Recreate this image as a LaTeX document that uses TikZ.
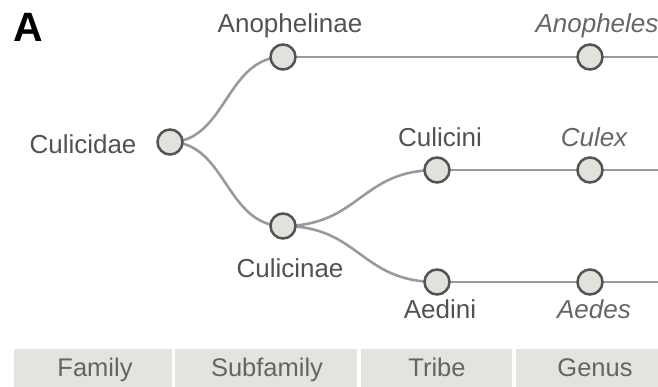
\documentclass[tikz,border=0pt]{standalone}
\usepackage{fontspec}
\setmainfont{Liberation Sans}
\definecolor{edgecol}{HTML}{9A9A9A}
\definecolor{ringcol}{HTML}{505553}
\definecolor{dotfill}{HTML}{E2E2DC}
\definecolor{txtcol}{HTML}{4F5452}
\definecolor{genuscol}{HTML}{666666}
\definecolor{barfill}{HTML}{E3E3DF}
\definecolor{bartxt}{HTML}{646464}
\tikzset{
  taxon/.style={circle, minimum size=25pt, inner sep=0pt, fill=dotfill, draw=ringcol, line width=2.5pt},
  link/.style={draw=edgecol, line width=2.6pt},
  lbl/.style={anchor=base, inner sep=0pt, text=txtcol, font=\fontsize{26}{30}\selectfont},
  glbl/.style={anchor=base, inner sep=0pt, text=genuscol, font=\fontsize{26}{30}\selectfont\itshape},
  rankcell/.style={fill=barfill, draw=none},
  ranklbl/.style={anchor=base, inner sep=0pt, text=bartxt, font=\fontsize{25.5}{30}\selectfont},
}
\begin{document}
\begin{tikzpicture}[x=1pt, y=-1pt]
\useasboundingbox (0,0) rectangle (658,387);

% tree nodes
\coordinate (Culicidae) at (170,142);
\coordinate (Anophelinae) at (283,57);
\coordinate (Culicinae) at (283,226);
\coordinate (Culicini) at (437,170);
\coordinate (Aedini) at (437,282);
\coordinate (Anopheles) at (590,57);
\coordinate (Culex) at (590,170);
\coordinate (Aedes) at (590,282);
\coordinate (endA) at (658,57);
\coordinate (endB) at (658,170);
\coordinate (endC) at (658,282);

% links
\draw[link] (Culicidae) .. controls (226,142) and (226,57) .. (Anophelinae);
\draw[link] (Culicidae) .. controls (226,142) and (226,226) .. (Culicinae);
\draw[link] (Culicinae) .. controls (360,226) and (360,170) .. (Culicini);
\draw[link] (Culicinae) .. controls (360,226) and (360,282) .. (Aedini);
\draw[link] (Anophelinae) -- (Anopheles) -- (endA);
\draw[link] (Culicini) -- (Culex) -- (endB);
\draw[link] (Aedini) -- (Aedes) -- (endC);

% circles
\foreach \n in {Culicidae,Anophelinae,Culicinae,Culicini,Aedini,Anopheles,Culex,Aedes}
  \node[taxon] (c\n) at (\n) {};

% labels
\node[lbl] (tCulicidae) at (83,154) {Culicidae};
\node[lbl] (tAnophelinae) at (290,33) {Anophelinae};
\node[lbl] (tCulicinae) at (290,277) {Culicinae};
\node[lbl] (tCulicini) at (440,147) {Culicini};
\node[lbl] (tAedini) at (440,318) {Aedini};
\node[glbl] (tAnopheles) at (597,33) {Anopheles};
\node[glbl] (tCulex) at (594,147) {Culex};
\node[glbl] (tAedes) at (594,318) {Aedes};

% panel letter
\node[anchor=base west, inner sep=0pt, font=\fontsize{41}{44}\selectfont\bfseries] (panel) at (13,42) {A};

% rank bar
\fill[rankcell] (14,349) rectangle (172,387);
\fill[rankcell] (175,349) rectangle (357,387);
\fill[rankcell] (361,349) rectangle (512,387);
\fill[rankcell] (516,349) rectangle (658,387);
\node[ranklbl] (rFamily) at (95,376) {Family};
\node[ranklbl] (rSubfamily) at (267,376) {Subfamily};
\node[ranklbl] (rTribe) at (437,376) {Tribe};
\node[ranklbl] (rGenus) at (595,376) {Genus};
\end{tikzpicture}
\end{document}
